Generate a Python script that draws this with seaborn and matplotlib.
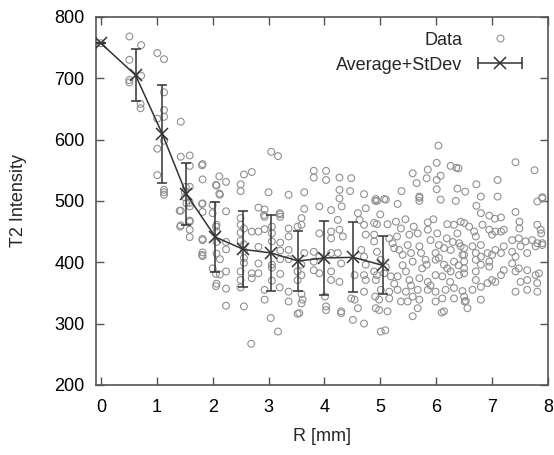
import numpy as np
import pandas as pd
import matplotlib
matplotlib.use("Agg")
import matplotlib.pyplot as plt
import seaborn as sns
from matplotlib.lines import Line2D
from matplotlib.legend_handler import HandlerLine2D

data_points = [
    (0.0, 757),
    (0.51, 768), (0.72, 754), (0.51, 730), (0.51, 697), (0.51, 693), (0.72, 704),
    (0.71, 658), (0.71, 651),
    (1.01, 741), (1.13, 731), (1.13, 677), (1.13, 648), (1.13, 637), (1.01, 634),
    (1.43, 629), (1.01, 585), (1.13, 598), (1.01, 542), (1.13, 518), (1.13, 514), (1.13, 510),
    (1.43, 572), (1.59, 574), (1.59, 557), (1.82, 560), (1.82, 535), (1.52, 523), (1.59, 523),
    (1.50, 515), (1.50, 506), (1.59, 497), (1.43, 484), (1.82, 496), (1.82, 482), (1.43, 460),
    (1.59, 468), (1.59, 453), (1.59, 441), (1.82, 438),
    (2.12, 540), (2.06, 526), (2.12, 512), (1.41, 484), (1.53, 496), (1.59, 491), (1.42, 458),
    (1.59, 466), (1.82, 436), (1.82, 416), (1.82, 410),
    (2.0, 493), (2.0, 480), (2.06, 458), (2.0, 390), (2.06, 381), (2.06, 361),
    (1.81, 558), (2.24, 531), (2.07, 525), (2.13, 510), (2.56, 543), (2.70, 547),
    (2.5, 527), (2.5, 516), (3.0, 514), (3.36, 510), (1.81, 495), (2.24, 483), (2.07, 461),
    (2.07, 450), (1.81, 412), (2.07, 433), (2.07, 414), (2.24, 433), (2.24, 421), (2.13, 405),
    (2.13, 380), (2.24, 385), (2.07, 365), (2.24, 357), (2.24, 329), (2.56, 328),
    (2.5, 472), (2.5, 461), (2.56, 455), (2.5, 448), (2.5, 435), (2.56, 429), (2.56, 418),
    (2.56, 407), (2.56, 399), (2.5, 385), (2.5, 371), (2.5, 359), (2.70, 450), (2.70, 382),
    (2.70, 374), (2.82, 489), (2.93, 486), (2.82, 450), (2.93, 454), (2.82, 425), (2.82, 398),
    (2.82, 382), (2.93, 474), (3.06, 458), (3.06, 447), (3.06, 434), (3.06, 396), (3.06, 391),
    (3.21, 478), (3.21, 474), (3.21, 432), (3.21, 419), (3.21, 405), (3.21, 381), (3.06, 370),
    (2.93, 355), (2.93, 339), (3.2, 359), (3.36, 455), (3.36, 336),
    (2.92, 477), (3.2, 480), (3.36, 442),
    (3.05, 580), (3.17, 573), (3.04, 309), (3.17, 287), (2.69, 267),
    (3.81, 549), (4.03, 549), (3.81, 538), (4.03, 534), (4.27, 538), (4.48, 537),
    (3.64, 514), (4.27, 518), (4.27, 504), (4.46, 516), (4.71, 511), (4.91, 500),
    (3.64, 487), (3.91, 491), (4.12, 485), (4.31, 491), (4.74, 488), (3.59, 472), (3.59, 461),
    (3.52, 458), (3.36, 420), (3.91, 447), (4.12, 450), (4.12, 439), (4.24, 469), (4.27, 453),
    (4.33, 442), (4.6, 480), (4.63, 469), (4.71, 461), (4.74, 445), (4.89, 464), (4.89, 445),
    (4.89, 434), (3.64, 415), (3.81, 417), (3.81, 401), (3.91, 409), (4.12, 415), (4.24, 415),
    (4.3, 398), (4.66, 420), (4.71, 409), (4.74, 396), (3.36, 405), (3.59, 396), (3.52, 385),
    (3.59, 379), (3.52, 371), (3.81, 387), (3.91, 382), (4.12, 385), (4.12, 371), (4.27, 368),
    (4.54, 379), (4.71, 379), (4.74, 371), (4.89, 385), (4.92, 371), (3.36, 352), (3.59, 348),
    (3.59, 333), (4.01, 344), (4.03, 328), (4.03, 322), (4.3, 320), (4.48, 341), (4.54, 339),
    (4.6, 325), (4.71, 352), (4.91, 344), (4.92, 325), (3.55, 317), (3.52, 316), (3.61, 339),
    (4.51, 306), (4.71, 300), (4.3, 317),
    (6.04, 590), (6.01, 562), (6.26, 557), (6.36, 554), (6.4, 553), (7.42, 563), (7.76, 550),
    (5.58, 545), (5.85, 551), (5.65, 529), (5.83, 537), (6.01, 534), (6.08, 541), (5.38, 516),
    (6.01, 519), (6.38, 520), (6.52, 515), (6.72, 527), (7.1, 534), (7.1, 507), (6.8, 507),
    (5.7, 507), (4.92, 503), (5.07, 503), (7.9, 506),
    (4.94, 500), (5.1, 502), (5.31, 495), (5.7, 505), (5.7, 500), (6.08, 502), (6.35, 500),
    (5.0, 478), (4.94, 462), (5.13, 462), (5.37, 455), (5.52, 445), (5.67, 447), (5.85, 465),
    (5.85, 453), (6.02, 447), (6.32, 461), (6.44, 466), (6.19, 439), (6.38, 447),
    (5.22, 431), (5.34, 420), (5.4, 412), (5.49, 428), (5.55, 415), (5.58, 401), (5.7, 426),
    (5.73, 415), (5.81, 404), (5.83, 396), (5.99, 415), (5.99, 404), (6.05, 407), (6.14, 423),
    (6.14, 396), (6.26, 420), (6.32, 401), (6.44, 426), (6.47, 412), (4.94, 417), (5.01, 404),
    (5.16, 439), (5.25, 423),
    (4.94, 379), (5.07, 382), (5.19, 377), (5.31, 377), (5.46, 385), (5.52, 371), (5.7, 374),
    (5.85, 368), (5.99, 379), (6.11, 377), (6.26, 385), (6.41, 379), (5.01, 355), (5.16, 352),
    (5.31, 355), (5.46, 352), (5.58, 344), (5.67, 355), (5.85, 355), (5.99, 352), (6.17, 355),
    (6.32, 358), (6.47, 353), (4.98, 339), (5.16, 341), (5.37, 336), (5.49, 336), (5.7, 339),
    (5.99, 336), (6.11, 341), (6.32, 341), (4.98, 322), (5.13, 320), (5.67, 325), (6.14, 320),
    (5.01, 287), (5.09, 289), (5.58, 312), (6.1, 318), (6.56, 325), (6.51, 336),
    (5.28, 466), (5.45, 470), (5.6, 458), (5.95, 470), (6.2, 462), (5.3, 442), (5.9, 436),
    (6.05, 428), (6.3, 433), (5.4, 395), (5.75, 390), (6.2, 390), (6.4, 395), (5.1, 392),
    (5.55, 362), (5.9, 362), (6.25, 368), (5.25, 365),
    (7.81, 499), (7.9, 504), (6.72, 492), (6.8, 480), (6.95, 476), (7.05, 471), (7.16, 473),
    (7.42, 482), (7.49, 466), (7.49, 455), (7.81, 461), (7.87, 453), (7.88, 447),
    (6.5, 464), (6.59, 458), (6.68, 450), (6.71, 442), (6.83, 461), (6.95, 453), (7.0, 445),
    (7.06, 450), (7.16, 450), (7.21, 453), (7.36, 436), (7.48, 439), (7.6, 434), (7.72, 436),
    (7.81, 431), (7.9, 431),
    (6.41, 431), (6.5, 423), (6.5, 412), (6.65, 426), (6.71, 415), (6.8, 428), (6.8, 409),
    (6.92, 415), (7.0, 412), (7.06, 420), (7.16, 415), (7.21, 426), (7.36, 417), (7.42, 409),
    (7.51, 426), (7.63, 415), (7.78, 426), (7.9, 428),
    (6.5, 401), (6.5, 390), (6.5, 382), (6.71, 404), (6.71, 385), (6.8, 396), (6.95, 401),
    (6.95, 393), (7.0, 371), (7.06, 368), (7.16, 379), (7.21, 387), (7.36, 398), (7.42, 385),
    (7.48, 390), (7.63, 387), (7.78, 379), (7.84, 382), (6.92, 366), (6.71, 371), (6.65, 355),
    (6.8, 360), (6.5, 344), (6.53, 337), (6.8, 339), (7.42, 352), (7.51, 368), (7.63, 371),
    (7.63, 355), (7.81, 366), (7.81, 352),
]

# binned average with standard deviation
avg_r = [0.0, 0.62, 1.1, 1.53, 2.05, 2.55, 3.05, 3.53, 4.0, 4.52, 5.04]
avg_t2 = [757, 705, 609, 511, 441, 421, 415, 402, 407, 408, 395]
avg_sd = [0, 42, 80, 51, 57, 62, 62, 49, 60, 57, 47]

df = pd.DataFrame(data_points, columns=["R", "T2"])

sns.set_theme(style="ticks")
plt.rcParams["font.family"] = ["Liberation Sans", "DejaVu Sans"]

fig = plt.figure(figsize=(5.54, 4.55), dpi=100)
ax = fig.add_axes([0.173, 0.154, 0.816, 0.809])

sns.scatterplot(data=df, x="R", y="T2", ax=ax, marker="o", s=24,
                facecolors="none", edgecolor="#909090", linewidth=0.8, zorder=2)

line_col = "#333333"
ax.errorbar(avg_r, avg_t2, yerr=avg_sd, color=line_col, lw=1.1, marker="x",
            markersize=9, markeredgewidth=1.1, capsize=3.5, elinewidth=1.1,
            capthick=1.1, zorder=3)

ax.set_xlim(-0.09, 8)
ax.set_ylim(200, 800)
ax.set_xticks(range(0, 9))
ax.set_yticks(range(200, 801, 100))
ax.set_xlabel("R [mm]", fontsize=13, labelpad=9)
ax.set_ylabel("T2 Intensity", fontsize=13, labelpad=20)
ax.tick_params(direction="in", length=6, width=1, colors="#555555", labelcolor="black",
               labelsize=13, top=True, right=True)
ax.tick_params(axis="x", pad=10)
ax.tick_params(axis="y", pad=8)
for sp in ax.spines.values():
    sp.set_color("#555555")
    sp.set_linewidth(1.2)

# legend: gnuplot-like, marker on the right
data_h = Line2D([], [], ls="none", marker="o", markersize=5, markerfacecolor="none",
                markeredgecolor="#909090", markeredgewidth=0.8)
caps_h = Line2D([], [], color=line_col, lw=1.1, marker="|", markersize=9, markeredgewidth=1.1)
x_h = Line2D([], [], ls="none", color=line_col, marker="x", markersize=9, markeredgewidth=1.1)
ax.legend([data_h, (caps_h, x_h)], ["Data", "Average+StDev"], loc="upper right",
          frameon=False, markerfirst=False, fontsize=13, handlelength=3.0,
          handletextpad=0.6, borderpad=0, borderaxespad=0,
          bbox_to_anchor=(0.954, 0.96), labelspacing=0.45,
          handler_map={caps_h: HandlerLine2D(numpoints=2), data_h: HandlerLine2D(numpoints=1)})

fig.savefig("out.png", dpi=100)
